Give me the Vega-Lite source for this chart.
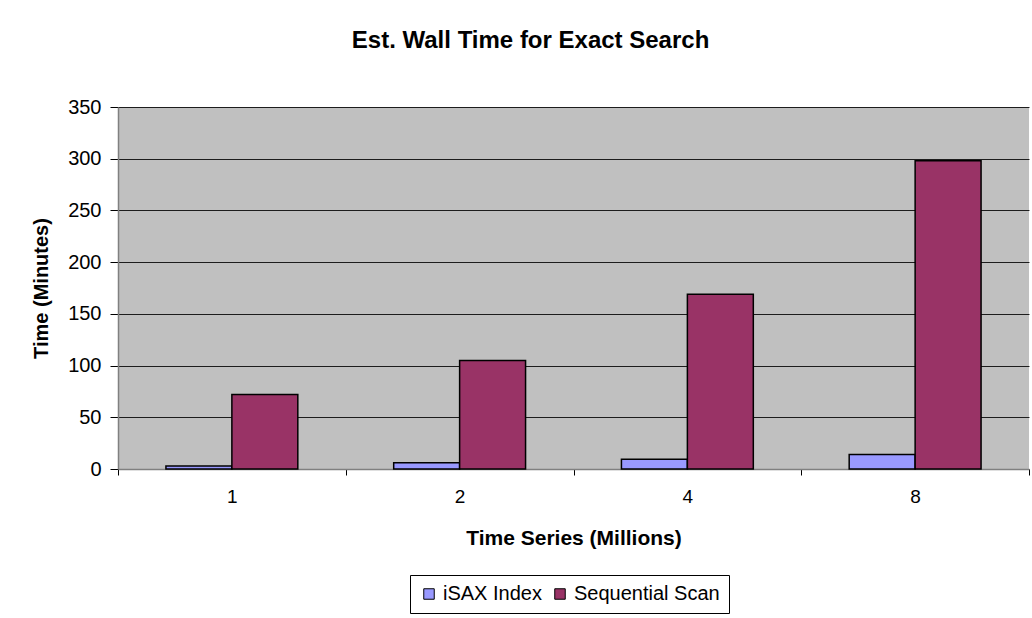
{
  "$schema": "https://vega.github.io/schema/vega-lite/v6.json",
  "width": 911,
  "height": 362,
  "autosize": {"type": "none"},
  "padding": {"left": 118, "top": 107, "right": 3, "bottom": 149},
  "background": "white",
  "title": {
    "text": "Est. Wall Time for Exact Search",
    "font": "Liberation Sans",
    "fontSize": 24,
    "fontWeight": "bold",
    "color": "black",
    "anchor": "middle",
    "frame": "bounds",
    "offset": 44
  },
  "data": {
    "values": [
      {"size": "1", "method": "iSAX Index", "minutes": 3},
      {"size": "1", "method": "Sequential Scan", "minutes": 72},
      {"size": "2", "method": "iSAX Index", "minutes": 6},
      {"size": "2", "method": "Sequential Scan", "minutes": 105},
      {"size": "4", "method": "iSAX Index", "minutes": 9.5},
      {"size": "4", "method": "Sequential Scan", "minutes": 169},
      {"size": "8", "method": "iSAX Index", "minutes": 14},
      {"size": "8", "method": "Sequential Scan", "minutes": 298}
    ]
  },
  "mark": {"type": "bar", "stroke": "black", "strokeWidth": 1.5},
  "encoding": {
    "x": {
      "field": "size",
      "type": "ordinal",
      "sort": ["1", "2", "4", "8"],
      "scale": {"paddingInner": 0, "paddingOuter": 0},
      "axis": {
        "title": "Time Series (Millions)",
        "labelAngle": 0,
        "tickBand": "extent",
        "grid": false,
        "domainColor": "#808080",
        "domainWidth": 1.5,
        "tickColor": "black",
        "tickSize": 6,
        "labelPadding": 12,
        "labelFont": "Liberation Sans",
        "labelFontSize": 19,
        "labelColor": "black",
        "titleFont": "Liberation Sans",
        "titleFontSize": 21,
        "titleFontWeight": "bold",
        "titleColor": "black",
        "titlePadding": 21
      }
    },
    "xOffset": {
      "field": "method",
      "sort": ["iSAX Index", "Sequential Scan"],
      "scale": {"paddingInner": 0, "paddingOuter": 0.727}
    },
    "y": {
      "field": "minutes",
      "type": "quantitative",
      "scale": {"domain": [0, 350], "nice": false},
      "axis": {
        "title": "Time (Minutes)",
        "values": [0, 50, 100, 150, 200, 250, 300, 350],
        "grid": true,
        "gridColor": "black",
        "gridWidth": 1,
        "gridOpacity": 0.85,
        "domainColor": "#808080",
        "domainWidth": 1.5,
        "tickColor": "black",
        "tickSize": 8,
        "labelPadding": 9,
        "labelFont": "Liberation Sans",
        "labelFontSize": 20,
        "labelColor": "black",
        "titleFont": "Liberation Sans",
        "titleFontSize": 20,
        "titleFontWeight": "bold",
        "titleColor": "black",
        "titlePadding": 16
      }
    },
    "color": {
      "field": "method",
      "type": "nominal",
      "scale": {"domain": ["iSAX Index", "Sequential Scan"], "range": ["#9999FF", "#993366"]},
      "legend": {
        "title": null,
        "orient": "none",
        "legendX": 292,
        "legendY": 468,
        "direction": "horizontal",
        "strokeColor": "black",
        "fillColor": "white",
        "padding": 9,
        "symbolType": "square",
        "symbolSize": 110,
        "symbolStrokeColor": "black",
        "symbolStrokeWidth": 1,
        "symbolOpacity": 1,
        "labelFont": "Liberation Sans",
        "labelFontSize": 20,
        "labelColor": "black",
        "labelOffset": 4,
        "columnPadding": 8
      }
    }
  },
  "config": {
    "view": {"fill": "#C0C0C0", "stroke": null}
  }
}
